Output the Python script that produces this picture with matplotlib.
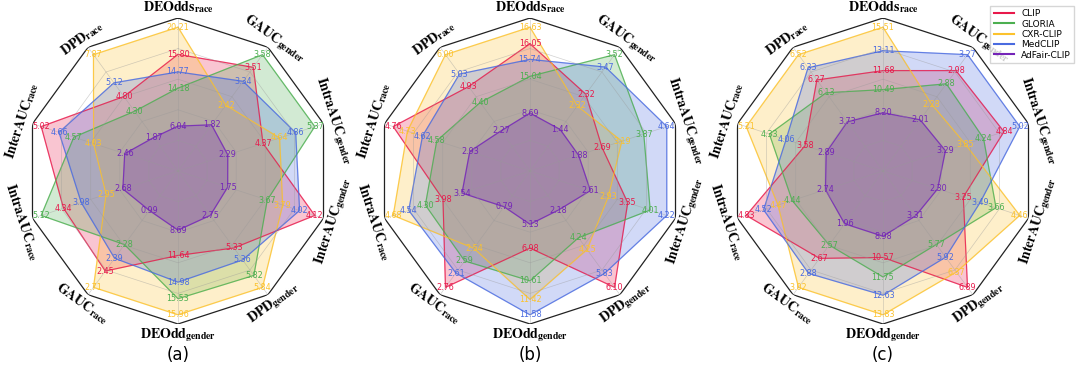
import numpy as np
import matplotlib.pyplot as plt
from matplotlib.lines import Line2D

plt.rcParams['mathtext.fontset'] = 'stix'

# axes go clockwise from the top
metric_names = ['DEOdds', 'GAUC', 'IntraAUC', 'InterAUC', 'DPD',
                'DEOdd', 'GAUC', 'IntraAUC', 'InterAUC', 'DPD']
metric_groups = ['race', 'gender', 'gender', 'gender', 'gender',
                 'gender', 'race', 'race', 'race', 'race']
models = ['CLIP', 'GLORIA', 'CXR-CLIP', 'MedCLIP', 'AdFair-CLIP']
colors = ['#e8194b', '#4caf50', '#fcc22d', '#4a6be0', '#7424b8']
panel_tags = ['(a)', '(b)', '(c)']

# panel (a)
a_clip = [15.80, 3.51, 4.37, 4.12, 5.33, 11.64, 2.45, 4.34, 5.02, 4.80]
a_gloria = [14.18, 3.58, 5.37, 3.67, 5.82, 15.53, 2.28, 5.12, 4.57, 4.30]
a_cxr = [20.21, 2.42, 4.64, 3.79, 5.84, 15.96, 2.71, 2.95, 4.03, 7.87]
a_medclip = [14.77, 3.34, 4.86, 4.02, 5.36, 14.98, 2.39, 3.98, 4.66, 5.12]
a_adfair = [6.04, 1.82, 2.29, 1.75, 2.75, 8.69, 0.99, 2.68, 2.46, 1.87]

# panel (b)
b_clip = [16.05, 2.32, 2.69, 3.35, 6.10, 6.98, 2.76, 3.98, 4.76, 4.93]
b_gloria = [15.04, 3.52, 3.87, 4.01, 4.24, 10.61, 2.59, 4.30, 4.58, 4.40]
b_cxr = [16.63, 2.32, 3.19, 2.93, 4.25, 11.42, 2.54, 4.68, 4.73, 6.00]
b_medclip = [15.74, 3.47, 4.64, 4.22, 5.83, 11.58, 2.61, 4.54, 4.62, 5.03]
b_adfair = [8.69, 1.44, 1.88, 2.61, 2.18, 5.13, 0.79, 3.54, 2.93, 2.27]

# panel (c)
c_clip = [11.68, 2.98, 4.84, 3.25, 6.89, 10.57, 2.67, 4.83, 3.58, 6.27]
c_gloria = [10.49, 2.88, 4.24, 3.66, 5.77, 11.75, 2.57, 4.44, 4.33, 6.13]
c_cxr = [15.51, 2.28, 3.85, 4.46, 6.37, 13.83, 3.02, 4.47, 5.21, 6.52]
c_medclip = [13.11, 3.27, 5.02, 3.49, 5.92, 12.63, 2.88, 4.52, 4.06, 6.33]
c_adfair = [8.20, 2.01, 3.29, 2.30, 3.31, 8.98, 1.96, 2.74, 2.89, 3.73]

panels = [[a_clip, a_gloria, a_cxr, a_medclip, a_adfair],
          [b_clip, b_gloria, b_cxr, b_medclip, b_adfair],
          [c_clip, c_gloria, c_cxr, c_medclip, c_adfair]]


def to_radius(table):
    # every axis has its own scale: half value/max, half rank
    t = np.array(table, dtype=float)
    ratio = t / t.max(0)
    rank_desc = (-t).argsort(0, kind='stable').argsort(0)
    rank = (len(t) - 1 - rank_desc) / (len(t) - 1)
    return 0.18 + 0.76 * (0.5 * ratio + 0.5 * rank)


n = len(metric_names)
angles = np.arange(n) * 2 * np.pi / n
closed = np.append(angles, angles[0])

fig = plt.figure(figsize=(10.8, 3.67), dpi=100)
centers_x = [178, 530, 883]
R = 153
cy = 171

for k, table in enumerate(panels):
    left = (centers_x[k] - R) / 1080
    bottom = (367 - cy - R) / 367
    ax = fig.add_axes([left, bottom, 2 * R / 1080, 2 * R / 367], projection='polar')
    ax.set_theta_zero_location('N')
    ax.set_theta_direction(-1)
    ax.set_ylim(0, 1)
    ax.set_xticks([])
    ax.set_yticks([])
    ax.grid(False)
    ax.spines['polar'].set_visible(False)
    ax.patch.set_alpha(0)

    radii = to_radius(table)
    for s in range(len(models)):
        r = np.append(radii[s], radii[s][0])
        ax.fill(closed, r, color=colors[s], alpha=0.25, zorder=2)
        ax.plot(closed, r, color=colors[s], lw=0.8, alpha=0.8, zorder=3)

    # grid
    for lvl in [0.2, 0.4, 0.6, 0.8]:
        ax.plot(closed, [lvl] * (n + 1), color='#999999', lw=0.5, alpha=0.45, zorder=4)
    for a in angles:
        ax.plot([a, a], [0, 1], color='#999999', lw=0.5, alpha=0.45, zorder=4)
    ax.plot(closed, [1] * (n + 1), color='#222222', lw=0.9, zorder=5)

    for s in range(len(models)):
        for i in range(n):
            ax.text(angles[i], radii[s][i], f'{table[s][i]:.2f}', color=colors[s],
                    fontsize=5.8, ha='center', va='center', zorder=6)

    for i in range(n):
        rot = -np.degrees(angles[i])
        while rot <= -90:
            rot += 180
        while rot > 90:
            rot -= 180
        label = r'$\mathbf{%s}_{\mathbf{%s}}$' % (metric_names[i], metric_groups[i])
        ax.text(angles[i], 1.07, label, fontsize=10, rotation=rot,
                rotation_mode='anchor', ha='center', va='center')

    fig.text(centers_x[k] / 1080, 1 - 355 / 367, panel_tags[k],
             ha='center', va='center', fontsize=12)

handles = [Line2D([0], [0], color=c, lw=1.5) for c in colors]
fig.legend(handles, models, loc='upper right', bbox_to_anchor=(0.999, 0.997),
           fontsize=6.5, frameon=True, fancybox=False, edgecolor='#cccccc',
           handlelength=2.2, borderpad=0.4, labelspacing=0.15)

fig.savefig('out.png', dpi=100)
